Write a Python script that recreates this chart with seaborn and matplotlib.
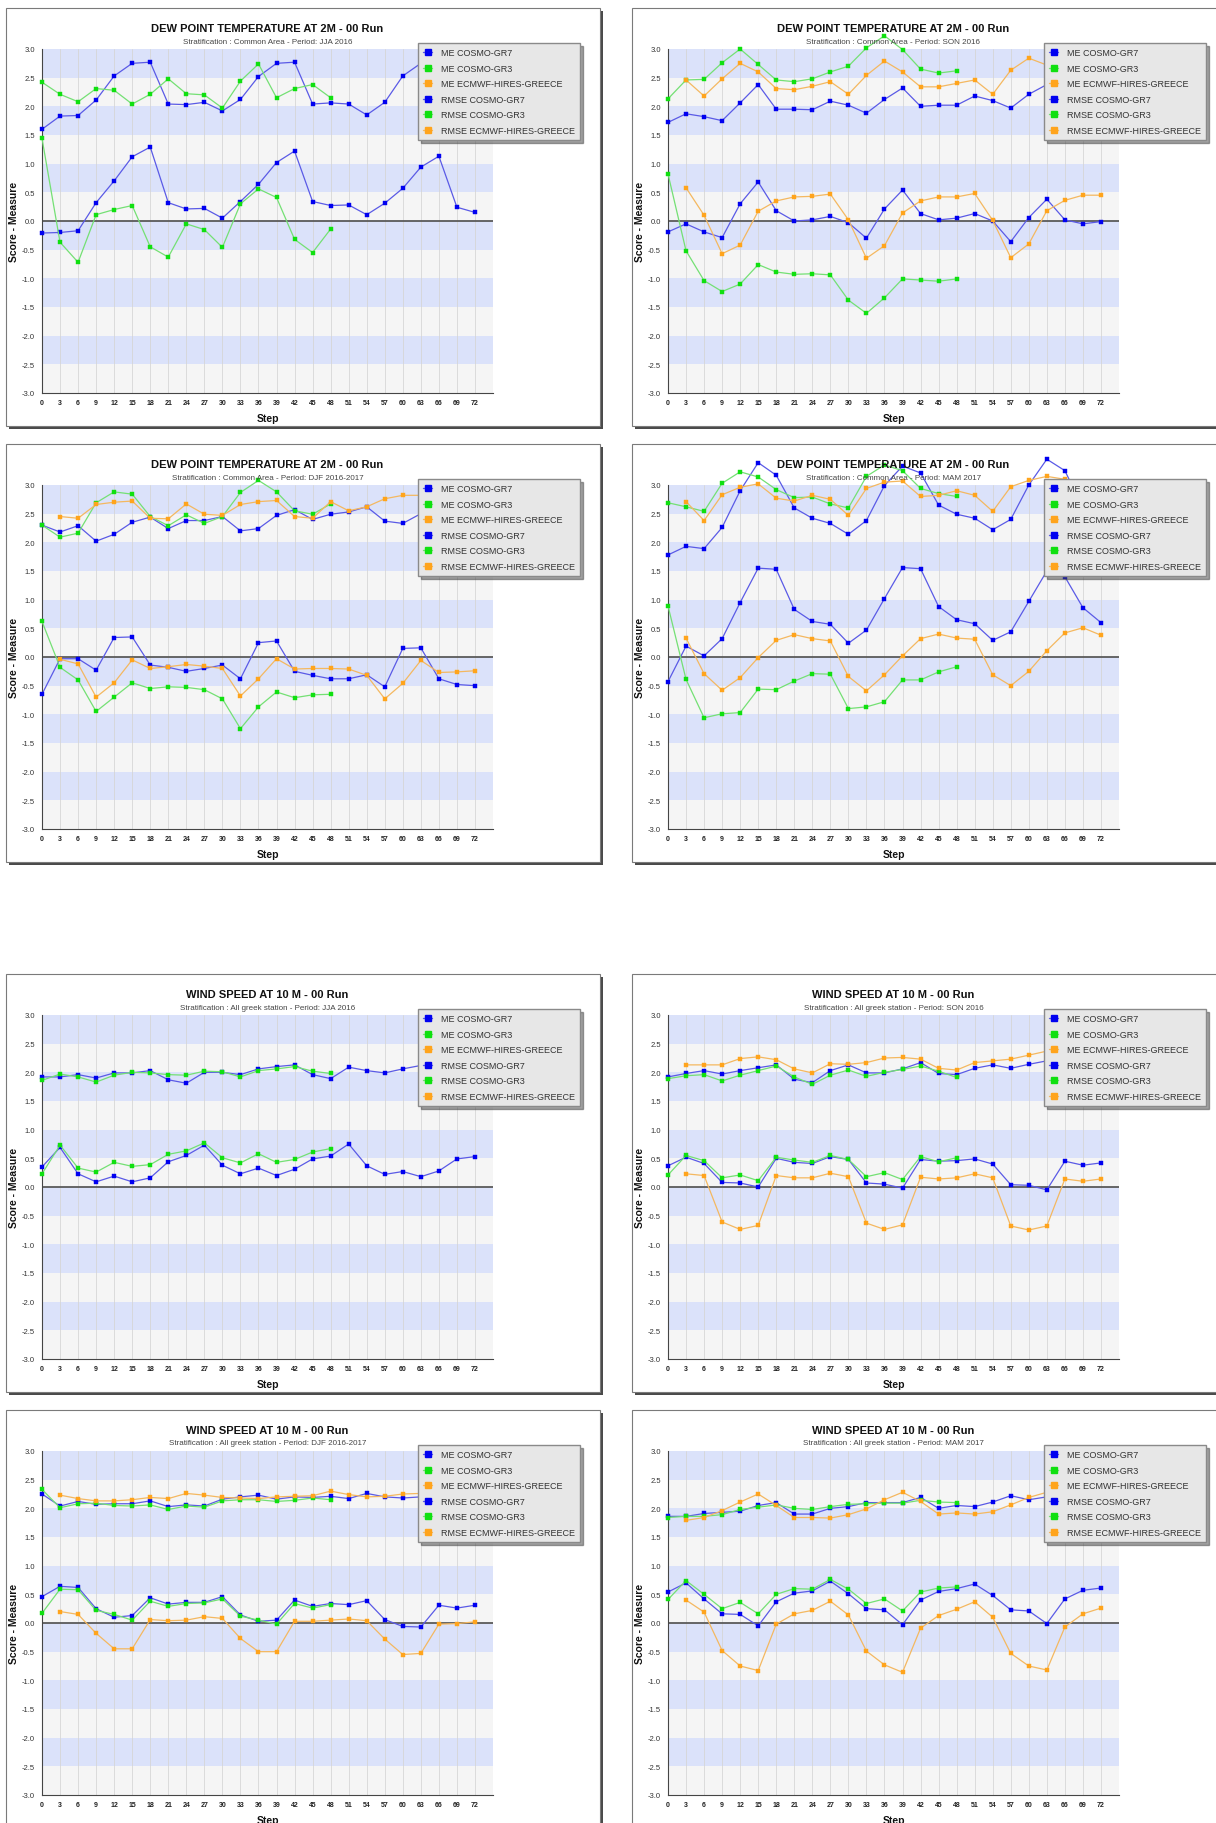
"""
Seasonal verification scores (ME / RMSE) for COSMO-GR7, COSMO-GR3 and ECMWF
Dew point at 2m and wind speed at 10m, 00 run, steps 0-72
"""

import numpy as np
import matplotlib
matplotlib.use("Agg")
import matplotlib.pyplot as plt
from matplotlib.patches import Rectangle
from matplotlib.lines import Line2D
from matplotlib.ticker import MultipleLocator
import seaborn as sns

# forecast steps (hours)
STEPS = [0, 3, 6, 9, 12, 15, 18, 21, 24, 27, 30, 33, 36,
         39, 42, 45, 48, 51, 54, 57, 60, 63, 66, 69, 72]
STEPS_GR3 = STEPS[:17]   # COSMO-GR3 runs to +48
STEPS_EC = STEPS[1:]     # ECMWF starts at +3

SERIES_LABELS = ["ME COSMO-GR7", "ME COSMO-GR3", "ME ECMWF-HIRES-GREECE",
                 "RMSE COSMO-GR7", "RMSE COSMO-GR3", "RMSE ECMWF-HIRES-GREECE"]

DP_TITLE = "DEW POINT TEMPERATURE AT 2M - 00 Run"
DP_SUB = "Stratification : Common Area - Period: "
WS_TITLE = "WIND SPEED AT 10 M - 00 Run"
WS_SUB = "Stratification : All greek station - Period: "
PERIODS = ["JJA 2016", "SON 2016", "DJF 2016-2017", "MAM 2017"]

# ---- dew point, JJA 2016
DP_JJA_RMSE_GR7 = [1.60, 1.83, 1.84, 2.11, 2.53, 2.75, 2.77, 2.04, 2.03, 2.07, 1.92, 2.12, 2.52,
                   2.75, 2.77, 2.04, 2.06, 2.04, 1.85, 2.07, 2.53, 2.75, 2.78, 2.10, 2.05]
DP_JJA_ME_GR7 = [-0.21, -0.20, -0.17, 0.32, 0.70, 1.12, 1.29, 0.32, 0.21, 0.22, 0.05, 0.34, 0.64,
                 1.02, 1.22, 0.34, 0.27, 0.28, 0.11, 0.31, 0.57, 0.94, 1.13, 0.24, 0.15]
DP_JJA_RMSE_GR3 = [2.42, 2.21, 2.08, 2.31, 2.28, 2.04, 2.21, 2.48, 2.22, 2.20, 1.97, 2.44, 2.74,
                   2.15, 2.31, 2.38, 2.15]
DP_JJA_ME_GR3 = [1.44, -0.37, -0.72, 0.11, 0.20, 0.27, -0.45, -0.63, -0.05, -0.15, -0.46, 0.30, 0.56,
                 0.41, -0.32, -0.55, -0.14]
DP_JJA_RMSE_EC = []
DP_JJA_ME_EC = []

# ---- dew point, SON 2016
DP_SON_RMSE_GR7 = [1.72, 1.87, 1.82, 1.75, 2.06, 2.38, 1.95, 1.95, 1.94, 2.09, 2.02, 1.88, 2.12,
                   2.32, 2.00, 2.02, 2.02, 2.18, 2.10, 1.97, 2.21, 2.38, 2.45, 2.30, 2.20]
DP_SON_ME_GR7 = [-0.19, -0.05, -0.19, -0.29, 0.30, 0.68, 0.18, 0.00, 0.02, 0.08, -0.03, -0.30, 0.21,
                 0.54, 0.13, 0.02, 0.05, 0.13, 0.00, -0.36, 0.06, 0.38, 0.02, -0.05, -0.01]
DP_SON_RMSE_GR3 = [2.13, 2.46, 2.47, 2.76, 3.00, 2.73, 2.46, 2.43, 2.48, 2.60, 2.70, 3.02, 3.23,
                   2.99, 2.65, 2.58, 2.62]
DP_SON_ME_GR3 = [0.82, -0.52, -1.04, -1.23, -1.10, -0.76, -0.89, -0.93, -0.92, -0.94, -1.38, -1.61, -1.34,
                 -1.01, -1.03, -1.05, -1.01]
DP_SON_RMSE_EC = [2.46, 2.18, 2.48, 2.75, 2.60, 2.31, 2.29, 2.35, 2.43, 2.21, 2.54, 2.79,
                  2.60, 2.34, 2.34, 2.40, 2.46, 2.21, 2.63, 2.84, 2.72, 2.60, 2.70, 2.80]
DP_SON_ME_EC = [0.58, 0.10, -0.57, -0.42, 0.17, 0.35, 0.42, 0.43, 0.47, 0.02, -0.65, -0.43,
                0.14, 0.35, 0.42, 0.42, 0.48, 0.01, -0.64, -0.40, 0.18, 0.36, 0.45, 0.45]

# ---- dew point, DJF 2016-2017
DP_DJF_RMSE_GR7 = [2.30, 2.18, 2.29, 2.02, 2.14, 2.35, 2.44, 2.24, 2.38, 2.38, 2.45, 2.20, 2.24,
                   2.47, 2.57, 2.40, 2.49, 2.53, 2.62, 2.37, 2.33, 2.50, 2.55, 2.45, 2.50]
DP_DJF_ME_GR7 = [-0.65, -0.03, -0.03, -0.23, 0.34, 0.35, -0.14, -0.18, -0.25, -0.20, -0.14, -0.38, 0.25,
                 0.28, -0.25, -0.32, -0.38, -0.38, -0.31, -0.52, 0.15, 0.16, -0.38, -0.48, -0.50]
DP_DJF_RMSE_GR3 = [2.30, 2.09, 2.16, 2.69, 2.88, 2.84, 2.45, 2.29, 2.48, 2.33, 2.45, 2.87, 3.08,
                   2.88, 2.55, 2.49, 2.67]
DP_DJF_ME_GR3 = [0.62, -0.18, -0.40, -0.95, -0.70, -0.45, -0.55, -0.52, -0.53, -0.57, -0.73, -1.25, -0.87,
                 -0.61, -0.71, -0.66, -0.65]
DP_DJF_RMSE_EC = [2.45, 2.42, 2.66, 2.70, 2.72, 2.42, 2.41, 2.67, 2.49, 2.47, 2.66, 2.71,
                  2.73, 2.45, 2.42, 2.71, 2.55, 2.62, 2.76, 2.82, 2.82, 2.84, 2.85, 2.85]
DP_DJF_ME_EC = [-0.04, -0.12, -0.70, -0.45, -0.05, -0.20, -0.17, -0.13, -0.16, -0.20, -0.68, -0.38,
                -0.03, -0.21, -0.20, -0.20, -0.21, -0.32, -0.73, -0.46, -0.06, -0.27, -0.26, -0.24]

# ---- dew point, MAM 2017
DP_MAM_RMSE_GR7 = [1.78, 1.93, 1.89, 2.26, 2.90, 3.39, 3.17, 2.60, 2.42, 2.33, 2.14, 2.38, 2.99,
                   3.33, 3.21, 2.65, 2.49, 2.42, 2.22, 2.40, 3.00, 3.45, 3.25, 2.60, 2.45]
DP_MAM_ME_GR7 = [-0.43, 0.19, 0.02, 0.32, 0.95, 1.55, 1.53, 0.83, 0.62, 0.57, 0.24, 0.47, 1.02,
                 1.56, 1.54, 0.88, 0.65, 0.58, 0.29, 0.44, 0.97, 1.50, 1.40, 0.86, 0.60]
DP_MAM_RMSE_GR3 = [2.69, 2.62, 2.54, 3.03, 3.23, 3.14, 2.92, 2.78, 2.79, 2.67, 2.60, 3.15, 3.35,
                   3.25, 2.94, 2.85, 2.80]
DP_MAM_ME_GR3 = [0.89, -0.39, -1.06, -0.99, -0.97, -0.56, -0.57, -0.42, -0.29, -0.30, -0.90, -0.87, -0.78,
                 -0.40, -0.40, -0.26, -0.17]
DP_MAM_RMSE_EC = [2.71, 2.38, 2.83, 2.96, 3.02, 2.77, 2.72, 2.82, 2.75, 2.47, 2.94, 3.05,
                  3.07, 2.80, 2.82, 2.90, 2.82, 2.54, 2.97, 3.08, 3.15, 3.10, 3.05, 3.00]
DP_MAM_ME_EC = [0.33, -0.29, -0.58, -0.36, -0.01, 0.29, 0.39, 0.32, 0.28, -0.34, -0.59, -0.31,
                0.02, 0.32, 0.40, 0.33, 0.31, -0.31, -0.50, -0.25, 0.11, 0.42, 0.51, 0.38]

# ---- wind speed, JJA 2016
WS_JJA_RMSE_GR7 = [1.92, 1.92, 1.96, 1.90, 1.99, 1.99, 2.03, 1.87, 1.81, 2.00, 2.00, 1.96, 2.06,
                   2.10, 2.13, 1.96, 1.89, 2.09, 2.03, 1.99, 2.06, 2.12, 2.15, 2.20, 2.15]
WS_JJA_ME_GR7 = [0.35, 0.69, 0.23, 0.09, 0.19, 0.09, 0.16, 0.44, 0.55, 0.73, 0.38, 0.23, 0.33,
                 0.20, 0.31, 0.49, 0.54, 0.75, 0.37, 0.22, 0.27, 0.18, 0.28, 0.49, 0.53]
WS_JJA_RMSE_GR3 = [1.86, 1.97, 1.92, 1.83, 1.95, 2.00, 1.99, 1.96, 1.95, 2.02, 2.01, 1.92, 2.03,
                   2.06, 2.10, 2.02, 1.98]
WS_JJA_ME_GR3 = [0.23, 0.73, 0.33, 0.26, 0.43, 0.36, 0.39, 0.57, 0.63, 0.77, 0.51, 0.42, 0.58,
                 0.43, 0.48, 0.61, 0.67]
WS_JJA_RMSE_EC = []
WS_JJA_ME_EC = []

# ---- wind speed, SON 2016
WS_SON_RMSE_GR7 = [1.92, 1.98, 2.03, 1.97, 2.03, 2.08, 2.13, 1.88, 1.82, 2.03, 2.13, 1.99, 1.99,
                   2.06, 2.17, 1.98, 1.96, 2.07, 2.13, 2.07, 2.14, 2.20, 2.25, 2.20, 2.20]
WS_SON_ME_GR7 = [0.37, 0.52, 0.41, 0.08, 0.07, 0.00, 0.50, 0.43, 0.41, 0.53, 0.48, 0.07, 0.05,
                 -0.02, 0.48, 0.45, 0.46, 0.49, 0.40, 0.04, 0.03, -0.05, 0.45, 0.38, 0.42]
WS_SON_RMSE_GR3 = [1.89, 1.94, 1.96, 1.85, 1.95, 2.03, 2.11, 1.92, 1.79, 1.95, 2.04, 1.93, 2.00,
                   2.05, 2.11, 2.02, 1.91]
WS_SON_ME_GR3 = [0.21, 0.55, 0.46, 0.16, 0.21, 0.11, 0.52, 0.47, 0.43, 0.55, 0.48, 0.18, 0.25,
                 0.13, 0.53, 0.44, 0.51]
WS_SON_RMSE_EC = [2.13, 2.13, 2.13, 2.24, 2.27, 2.22, 2.06, 1.99, 2.15, 2.14, 2.17, 2.25,
                  2.26, 2.23, 2.07, 2.04, 2.17, 2.20, 2.23, 2.30, 2.37, 2.40, 2.42, 2.45]
WS_SON_ME_EC = [0.23, 0.20, -0.61, -0.74, -0.67, 0.20, 0.16, 0.16, 0.24, 0.18, -0.63, -0.74,
                -0.66, 0.17, 0.14, 0.16, 0.23, 0.16, -0.68, -0.75, -0.68, 0.14, 0.10, 0.14]

# ---- wind speed, DJF 2016-2017
WS_DJF_RMSE_GR7 = [2.25, 2.04, 2.12, 2.07, 2.08, 2.08, 2.13, 2.03, 2.06, 2.04, 2.16, 2.20, 2.23,
                   2.16, 2.20, 2.19, 2.21, 2.17, 2.26, 2.20, 2.18, 2.20, 2.20, 2.22, 2.20]
WS_DJF_ME_GR7 = [0.46, 0.64, 0.62, 0.25, 0.10, 0.13, 0.44, 0.33, 0.36, 0.36, 0.46, 0.14, 0.03,
                 0.05, 0.40, 0.29, 0.34, 0.32, 0.39, 0.06, -0.06, -0.07, 0.31, 0.26, 0.31]
WS_DJF_RMSE_GR3 = [2.33, 2.01, 2.08, 2.09, 2.05, 2.04, 2.06, 1.98, 2.04, 2.02, 2.13, 2.15, 2.15,
                   2.12, 2.14, 2.18, 2.15]
WS_DJF_ME_GR3 = [0.17, 0.59, 0.58, 0.22, 0.15, 0.05, 0.38, 0.29, 0.34, 0.35, 0.42, 0.12, 0.05,
                 -0.02, 0.34, 0.26, 0.32]
WS_DJF_RMSE_EC = [2.23, 2.17, 2.13, 2.13, 2.15, 2.19, 2.17, 2.26, 2.23, 2.19, 2.18, 2.17,
                  2.20, 2.21, 2.22, 2.30, 2.24, 2.20, 2.21, 2.25, 2.26, 2.25, 2.25, 2.25]
WS_DJF_ME_EC = [0.20, 0.15, -0.18, -0.45, -0.45, 0.06, 0.04, 0.05, 0.11, 0.08, -0.27, -0.50,
                -0.50, 0.03, 0.03, 0.05, 0.07, 0.04, -0.28, -0.55, -0.53, -0.02, -0.01, 0.02]

# ---- wind speed, MAM 2017
WS_MAM_RMSE_GR7 = [1.86, 1.86, 1.91, 1.93, 1.95, 2.05, 2.10, 1.90, 1.90, 2.00, 2.03, 2.10, 2.10,
                   2.10, 2.19, 2.00, 2.05, 2.03, 2.11, 2.22, 2.15, 2.20, 2.25, 2.30, 2.30]
WS_MAM_ME_GR7 = [0.54, 0.70, 0.42, 0.16, 0.15, -0.05, 0.37, 0.52, 0.56, 0.73, 0.51, 0.25, 0.23,
                 -0.03, 0.40, 0.55, 0.60, 0.68, 0.48, 0.23, 0.21, -0.01, 0.42, 0.57, 0.61]
WS_MAM_RMSE_GR3 = [1.84, 1.86, 1.86, 1.89, 1.98, 2.02, 2.06, 2.00, 1.98, 2.03, 2.07, 2.08, 2.09,
                   2.09, 2.14, 2.11, 2.10]
WS_MAM_ME_GR3 = [0.41, 0.74, 0.50, 0.25, 0.36, 0.16, 0.50, 0.60, 0.59, 0.76, 0.59, 0.34, 0.42,
                 0.21, 0.54, 0.61, 0.63]
WS_MAM_RMSE_EC = [1.79, 1.84, 1.96, 2.11, 2.25, 2.05, 1.84, 1.84, 1.83, 1.89, 1.99, 2.15,
                  2.28, 2.12, 1.90, 1.92, 1.90, 1.94, 2.06, 2.19, 2.28, 2.30, 2.25, 2.20]
WS_MAM_ME_EC = [0.40, 0.19, -0.48, -0.75, -0.83, -0.02, 0.16, 0.22, 0.38, 0.14, -0.49, -0.73,
                -0.86, -0.09, 0.13, 0.24, 0.37, 0.10, -0.53, -0.75, -0.82, -0.07, 0.16, 0.26]

# colours: (line, marker)
C_GR7 = ("#5a5ae6", "#0000f0")
C_GR3 = ("#74e074", "#10e010")
C_EC = ("#f4b860", "#ffa41c")
BAND_BLUE = "#dbe2fa"
BAND_GREY = "#f5f5f5"

W, H = 1216, 1824
COL_X = [6, 632]
ROW_Y = [9, 445, 975, 1411]
FRAME_W, FRAME_H = 594, 418
PLOT_DX, PLOT_DY = 36, 41
PLOT_W, PLOT_H = 451, 344


def fig_rect(x, y, w, h):
    """Pixel box (top-left origin) -> figure fraction [l, b, w, h]."""
    return [x / W, 1 - (y + h) / H, w / W, h / H]


def draw_panel(fig, fx, fy, title, subtitle, me7, me3, me_ec, rm7, rm3, rm_ec):
    # framed card with a dark drop shadow
    l, b, w, h = fig_rect(fx + 3, fy + 3, FRAME_W, FRAME_H)
    fig.add_artist(Rectangle((l, b), w, h, transform=fig.transFigure,
                             facecolor="#4a4a4a", edgecolor="none", zorder=-3))
    l, b, w, h = fig_rect(fx, fy, FRAME_W, FRAME_H)
    fig.add_artist(Rectangle((l, b), w, h, transform=fig.transFigure,
                             facecolor="white", edgecolor="#7a7a7a", lw=0.8, zorder=-2))

    px, py = fx + PLOT_DX, fy + PLOT_DY
    ax = fig.add_axes(fig_rect(px, py, PLOT_W, PLOT_H))
    ax.set_xlim(0, 75)
    ax.set_ylim(-3, 3)

    # alternating horizontal bands
    for i, lo in enumerate(np.arange(-3.0, 3.0, 0.5)):
        ax.axhspan(lo, lo + 0.5, color=BAND_GREY if i % 2 == 0 else BAND_BLUE,
                   lw=0, zorder=0.1)
    ax.set_xticks(STEPS)
    ax.grid(axis="x", color="#d6d6d6", lw=0.6, zorder=0.5)
    ax.set_axisbelow(True)
    ax.axhline(0, color="#5a5a5a", lw=1.3, zorder=1.5)

    series = [(STEPS, me7, C_GR7), (STEPS_GR3, me3, C_GR3), (STEPS_EC, me_ec, C_EC),
              (STEPS, rm7, C_GR7), (STEPS_GR3, rm3, C_GR3), (STEPS_EC, rm_ec, C_EC)]
    for steps, vals, (lc, mc) in series:
        if len(vals) == 0:
            continue
        sns.lineplot(x=steps[:len(vals)], y=vals, ax=ax, color=lc, lw=0.9,
                     marker="s", markersize=2.7, markerfacecolor=mc,
                     markeredgecolor=mc, markeredgewidth=0.3,
                     errorbar=None, legend=False, clip_on=False, zorder=3)

    ax.set_xlabel("")
    ax.set_ylabel("")
    for side in ["top", "right"]:
        ax.spines[side].set_visible(False)
    for side in ["left", "bottom"]:
        ax.spines[side].set_color("#454545")
        ax.spines[side].set_linewidth(0.8)
    ax.yaxis.set_major_locator(MultipleLocator(0.5))
    ax.yaxis.set_minor_locator(MultipleLocator(0.1))
    ax.set_yticks(np.arange(-3.0, 3.01, 0.5))
    ax.set_yticklabels([f"{v:.1f}" for v in np.arange(-3.0, 3.01, 0.5)])
    ax.set_xticklabels([str(s) for s in STEPS], fontweight="bold")
    ax.tick_params(axis="y", which="major", direction="out", length=3, width=0.6,
                   color="#454545", labelsize=5.5, labelcolor="#333333", pad=2)
    ax.tick_params(axis="y", which="minor", direction="out", length=1.8, width=0.5,
                   color="#454545")
    ax.tick_params(axis="x", direction="out", length=2.5, width=0.6,
                   color="#454545", labelsize=5, labelcolor="#222222", pad=2)

    handles = [Line2D([0], [0], color=lc, lw=1, marker="s", markersize=4.5,
                      markerfacecolor=mc, markeredgecolor=mc)
               for lc, mc in [C_GR7, C_GR3, C_EC, C_GR7, C_GR3, C_EC]]
    leg = ax.legend(handles, SERIES_LABELS, loc="upper left",
                    bbox_to_anchor=(376 / PLOT_W, 1 + 6 / PLOT_H),
                    frameon=True, fancybox=False, shadow=True, framealpha=1,
                    facecolor="#e7e7e7", edgecolor="#8a8a8a", fontsize=6.5,
                    handlelength=1.0, handletextpad=0.9, labelspacing=0.72,
                    borderpad=0.6, borderaxespad=0)
    leg.set_zorder(10)
    for t in leg.get_texts():
        t.set_color("#333333")

    cx = (px + PLOT_W / 2) / W
    fig.text(cx, 1 - (fy + 20) / H, title, ha="center", va="center",
             fontsize=8, fontweight="bold", color="#111111")
    fig.text(cx, 1 - (fy + 33) / H, subtitle, ha="center", va="center",
             fontsize=5.8, color="#444444")
    fig.text(cx, 1 - (py + PLOT_H + 25) / H, "Step", ha="center", va="center",
             fontsize=7.5, fontweight="bold", color="#111111")
    fig.text((fx + 8) / W, 1 - (py + PLOT_H / 2) / H, "Score - Measure",
             ha="center", va="center", rotation=90, fontsize=7.5,
             fontweight="bold", color="#111111")


def main():
    sns.set_style("white")
    plt.rcParams["font.family"] = ["Liberation Sans", "DejaVu Sans"]
    plt.rcParams["axes.unicode_minus"] = False

    fig = plt.figure(figsize=(W / 100, H / 100), dpi=100)

    panels = [
        (DP_TITLE, DP_SUB + PERIODS[0], DP_JJA_ME_GR7, DP_JJA_ME_GR3, DP_JJA_ME_EC,
         DP_JJA_RMSE_GR7, DP_JJA_RMSE_GR3, DP_JJA_RMSE_EC),
        (DP_TITLE, DP_SUB + PERIODS[1], DP_SON_ME_GR7, DP_SON_ME_GR3, DP_SON_ME_EC,
         DP_SON_RMSE_GR7, DP_SON_RMSE_GR3, DP_SON_RMSE_EC),
        (DP_TITLE, DP_SUB + PERIODS[2], DP_DJF_ME_GR7, DP_DJF_ME_GR3, DP_DJF_ME_EC,
         DP_DJF_RMSE_GR7, DP_DJF_RMSE_GR3, DP_DJF_RMSE_EC),
        (DP_TITLE, DP_SUB + PERIODS[3], DP_MAM_ME_GR7, DP_MAM_ME_GR3, DP_MAM_ME_EC,
         DP_MAM_RMSE_GR7, DP_MAM_RMSE_GR3, DP_MAM_RMSE_EC),
        (WS_TITLE, WS_SUB + PERIODS[0], WS_JJA_ME_GR7, WS_JJA_ME_GR3, WS_JJA_ME_EC,
         WS_JJA_RMSE_GR7, WS_JJA_RMSE_GR3, WS_JJA_RMSE_EC),
        (WS_TITLE, WS_SUB + PERIODS[1], WS_SON_ME_GR7, WS_SON_ME_GR3, WS_SON_ME_EC,
         WS_SON_RMSE_GR7, WS_SON_RMSE_GR3, WS_SON_RMSE_EC),
        (WS_TITLE, WS_SUB + PERIODS[2], WS_DJF_ME_GR7, WS_DJF_ME_GR3, WS_DJF_ME_EC,
         WS_DJF_RMSE_GR7, WS_DJF_RMSE_GR3, WS_DJF_RMSE_EC),
        (WS_TITLE, WS_SUB + PERIODS[3], WS_MAM_ME_GR7, WS_MAM_ME_GR3, WS_MAM_ME_EC,
         WS_MAM_RMSE_GR7, WS_MAM_RMSE_GR3, WS_MAM_RMSE_EC),
    ]

    for i, p in enumerate(panels):
        draw_panel(fig, COL_X[i % 2], ROW_Y[i // 2], *p)

    fig.savefig("out.png", dpi=100, facecolor="white")
    plt.close(fig)


if __name__ == "__main__":
    main()
